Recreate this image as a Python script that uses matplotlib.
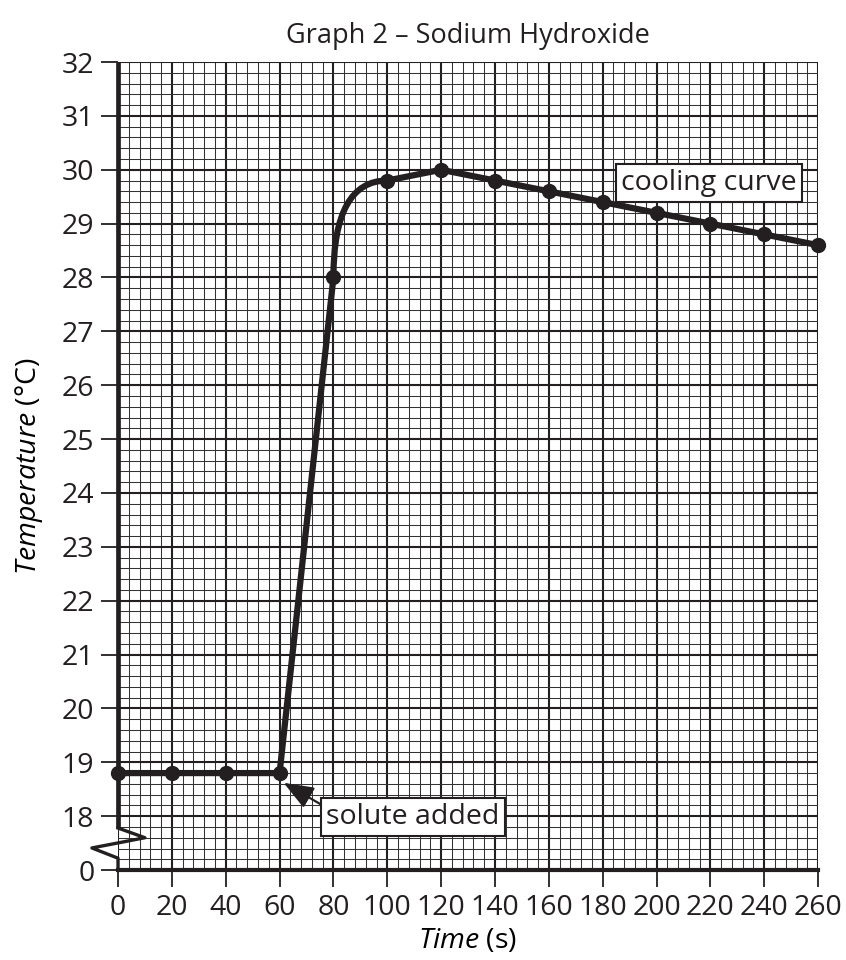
import matplotlib
matplotlib.use("Agg")
import matplotlib.pyplot as plt
from matplotlib.ticker import MultipleLocator
from matplotlib.path import Path
from matplotlib.patches import PathPatch

plt.rcParams.update({
    'font.family': ['Open Sans', 'DejaVu Sans'],
    'font.size': 20.5,
    'mathtext.fontset': 'custom',
    'mathtext.rm': 'Open Sans',
    'mathtext.it': 'Open Sans:italic',
    'text.color': '#231f20',
})

# readings off graph 2
time_s = [0, 20, 40, 60, 80, 100, 120, 140, 160, 180, 200, 220, 240, 260]
temp_c = [18.8, 18.8, 18.8, 18.8, 28.0, 29.8, 30.0, 29.8, 29.6, 29.4, 29.2, 29.0, 28.8, 28.6]

ytick_vals = [17, 18, 19, 20, 21, 22, 23, 24, 25, 26, 27, 28, 29, 30, 31, 32]
ytick_labels = ["0"] + [str(v) for v in ytick_vals[1:]]
xtick_vals = list(range(0, 261, 20))

ink = '#231f20'

fig = plt.figure(figsize=(8.46, 9.6), dpi=100)
ax = fig.add_axes([0.1395, 0.0937, 0.8275, 0.8417])
ax.set_xlim(0, 260)
ax.set_ylim(17, 32)

ax.set_xticks(xtick_vals)
ax.set_yticks(ytick_vals)
ax.set_yticklabels(ytick_labels)
ax.xaxis.set_minor_locator(MultipleLocator(4))
ax.yaxis.set_minor_locator(MultipleLocator(0.2))
ax.grid(which='minor', color='#333333', linewidth=0.75)
ax.grid(which='major', color=ink, linewidth=1.5)
ax.set_axisbelow(True)
ax.tick_params(which='minor', length=0)
ax.tick_params(which='major', length=12, width=1.3, color=ink, labelcolor=ink, pad=5)

for s in ['top', 'right', 'left']:
    ax.spines[s].set_visible(False)
ax.spines['bottom'].set_linewidth(3)
ax.spines['bottom'].set_color(ink)
ax.spines['bottom'].set_zorder(5)

# left axis with break
ax.plot([0, 0], [32, 17.78], color=ink, lw=3.4, clip_on=False, zorder=5, solid_capstyle='butt')
ax.plot([0, 10, -9.7, 0, 0], [17.78, 17.6, 17.41, 17.22, 17.0], color=ink, lw=2.4,
        clip_on=False, zorder=5)

# curve: straight segments with a smooth bend between 80 s and 100 s
i = time_s.index(80)
ax.plot(time_s[:i + 1], temp_c[:i + 1], color=ink, lw=4.5, solid_capstyle='round', zorder=6)
bend = Path([(time_s[i], temp_c[i]), (time_s[i], temp_c[i + 1]), (time_s[i + 1], temp_c[i + 1])],
            [Path.MOVETO, Path.CURVE3, Path.CURVE3])
ax.add_patch(PathPatch(bend, fill=False, edgecolor=ink, lw=4.5, zorder=6))
ax.plot(time_s[i + 1:], temp_c[i + 1:], color=ink, lw=4.5, solid_capstyle='round', zorder=6)
ax.plot(time_s, temp_c, 'o', color=ink, ms=10, zorder=7, clip_on=False)

box = dict(boxstyle='square,pad=0.18', fc='white', ec=ink, lw=1.5)
ax.text(219.5, 29.76, "cooling curve", ha='center', va='center', bbox=box, zorder=8)
ax.annotate("solute added", xy=(61.5, 18.62), xytext=(109.5, 17.98),
            ha='center', va='center', bbox=box, zorder=8,
            arrowprops=dict(arrowstyle='-|>,head_length=0.9,head_width=0.35', color=ink,
                            lw=1.6, relpos=(0, 0.85), shrinkA=0, shrinkB=0))

ax.set_title("Graph 2 \u2013 Sodium Hydroxide", pad=14, color=ink, fontsize=19.5)
ax.set_xlabel(r"$\it{Time}$ (s)", labelpad=4)
ax.set_ylabel(r"$\it{Temperature}$ (°C)", labelpad=12)

fig.savefig("out.png", dpi=100)
